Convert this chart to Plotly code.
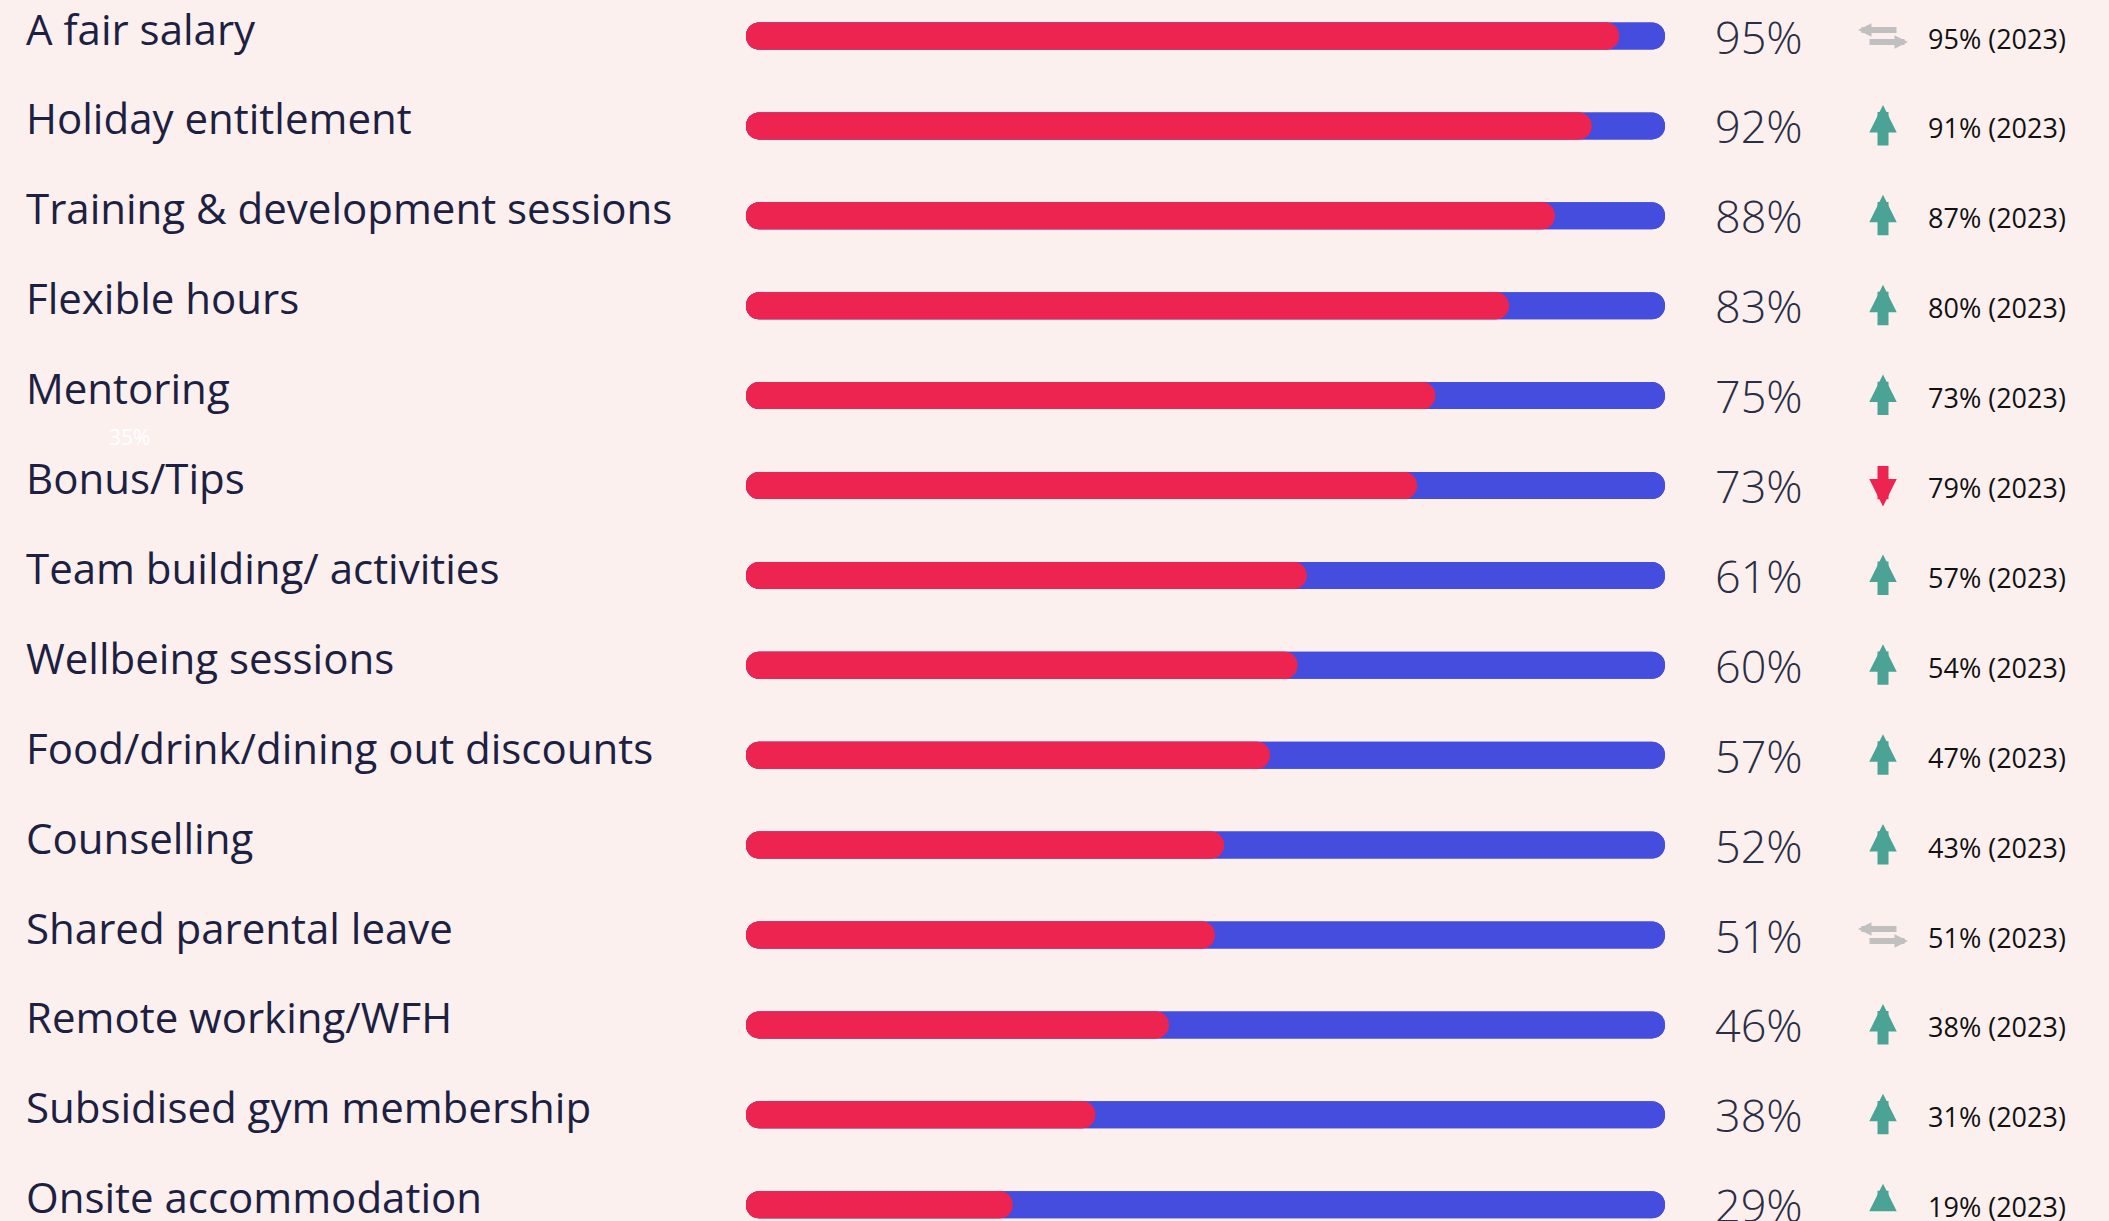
import plotly.graph_objects as go

# ---- data ----
categories = [
    "A fair salary", "Holiday entitlement", "Training & development sessions",
    "Flexible hours", "Mentoring", "Bonus/Tips", "Team building/ activities",
    "Wellbeing sessions", "Food/drink/dining out discounts", "Counselling",
    "Shared parental leave", "Remote working/WFH", "Subsidised gym membership",
    "Onsite accommodation",
]
values_2024 = [95, 92, 88, 83, 75, 73, 61, 60, 57, 52, 51, 46, 38, 29]
values_2023 = [95, 91, 87, 80, 73, 79, 57, 54, 47, 43, 51, 38, 31, 19]
total = [100] * len(categories)

# ---- style ----
W, H = 2109, 1221
BG = "#fcf0ef"
RED = "#ee2450"
BLUE = "#444ddd"
TEAL = "#4aa394"
GREY = "#c0c0c0"
LABEL_C = "#1d2141"
PCT_C = "#2a2e44"
FONT = "Open Sans"

rows = list(range(len(categories)))
ROW_PX = 89.9
TOP_PX = 36
BAR_T = 27 / ROW_PX

fig = go.Figure()

def pill(vals, color):
    # two overlapping bars, each rounded at its far end -> rounded both ends
    fig.add_trace(go.Bar(y=rows, x=vals, base=[0] * len(vals), orientation="h",
                         marker=dict(color=color, line=dict(width=0)),
                         width=BAR_T, hoverinfo="skip", showlegend=False))
    fig.add_trace(go.Bar(y=rows, x=[-v for v in vals], base=vals, orientation="h",
                         marker=dict(color=color, line=dict(width=0)),
                         width=BAR_T, hoverinfo="skip", showlegend=False))

pill(total, BLUE)
pill(values_2024, RED)

ann = []
for i, (cat, v, old) in enumerate(zip(categories, values_2024, values_2023)):
    ann.append(dict(x=24 / W, xref="paper", y=i, yref="y", text=cat,
                    xanchor="left", yanchor="middle", yshift=8, showarrow=False,
                    font=dict(family=FONT, size=42, color=LABEL_C)))
    ann.append(dict(x=1805 / W, xref="paper", y=i, yref="y", text=f"{v}%",
                    xanchor="right", yanchor="middle", showarrow=False,
                    font=dict(family=FONT, size=45, color=PCT_C, weight=300)))
    ann.append(dict(x=1926 / W, xref="paper", y=i, yref="y", text=f"{old}% (2023)",
                    xanchor="left", yanchor="middle", yshift=-2, showarrow=False,
                    font=dict(family=FONT, size=27, color="#111111")))
    ax_x = 1883 / W
    if v > old:
        ann.append(dict(x=ax_x, xref="paper", y=i, yref="y", text="", showarrow=True,
                        yshift=21, ax=0, ay=42, arrowhead=2, arrowwidth=11,
                        arrowsize=0.5, arrowcolor=TEAL))
    elif v < old:
        ann.append(dict(x=ax_x, xref="paper", y=i, yref="y", text="", showarrow=True,
                        yshift=-21, ax=0, ay=-42, arrowhead=2, arrowwidth=11,
                        arrowsize=0.5, arrowcolor=RED))
    else:
        ann.append(dict(x=ax_x, xref="paper", y=i, yref="y", text="", showarrow=True,
                        xshift=-25, yshift=6, ax=40, ay=0, arrowhead=2, arrowwidth=6,
                        arrowsize=0.45, arrowcolor=GREY))
        ann.append(dict(x=ax_x, xref="paper", y=i, yref="y", text="", showarrow=True,
                        xshift=25, yshift=-6, ax=-40, ay=0, arrowhead=2, arrowwidth=6,
                        arrowsize=0.45, arrowcolor=GREY))

ann.append(dict(x=107 / W, xref="paper", y=1 - 437 / H, yref="paper", text="35%",
                xanchor="left", yanchor="middle", showarrow=False,
                font=dict(family=FONT, size=21, color="#ffffff")))

fig.update_layout(
    width=W, height=H, margin=dict(l=0, r=0, t=0, b=0),
    paper_bgcolor=BG, plot_bgcolor=BG,
    barmode="overlay", barcornerradius="50%",
    xaxis=dict(domain=[746 / W, 1665 / W], range=[0, 100], visible=False, fixedrange=True),
    yaxis=dict(range=[(H - TOP_PX) / ROW_PX, -TOP_PX / ROW_PX], visible=False, fixedrange=True),
    annotations=ann, hovermode=False, showlegend=False,
)

fig.write_html("out.html", config={"displayModeBar": False},
               post_script="document.body.style.margin='0';document.body.style.background='%s';" % BG)
